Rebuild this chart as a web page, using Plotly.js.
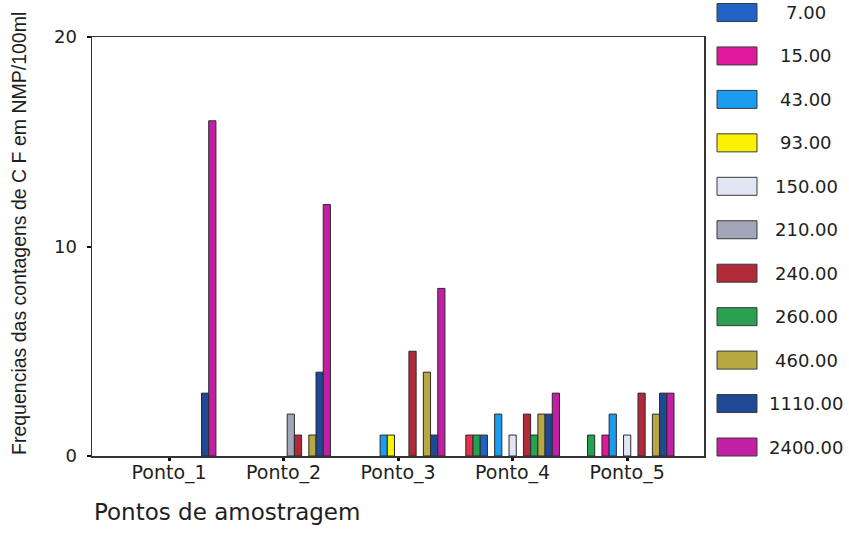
<!DOCTYPE html>
<html>
<head>
<meta charset="utf-8">
<script src="https://cdn.plot.ly/plotly-3.0.1.min.js"></script>
<style>
  html, body { margin: 0; padding: 0; background: #ffffff; }
  #chart { width: 849px; height: 534px; }
</style>
</head>
<body>
<div id="chart"></div>
<script>
// Sampling points (x categories)
const pontos = ['Ponto_1', 'Ponto_2', 'Ponto_3', 'Ponto_4', 'Ponto_5'];

// MPN count classes (one bar series each), ascending
const classes = ['3.00', '4.00', '7.00', '15.00', '43.00', '93.00', '150.00',
                 '210.00', '240.00', '260.00', '460.00', '1110.00', '2400.00'];

// Frequency of each count class at each sampling point (null = no occurrence)
const f3    = [null, null, null, 1, null];
const f4    = [null, null, null, 1, 1];
const f7    = [null, null, null, 1, null];
const f15   = [null, null, null, null, 1];
const f43   = [null, null, 1, 2, 2];
const f93   = [null, null, 1, null, null];
const f150  = [null, null, null, 1, 1];
const f210  = [null, 2, null, null, null];
const f240  = [null, 1, 5, 2, 3];
const f260  = [null, null, null, 1, null];
const f460  = [null, 1, 4, 2, 2];
const f1110 = [3, 4, 1, 2, 3];
const f2400 = [16, 12, 8, 3, 3];

const series = [f3, f4, f7, f15, f43, f93, f150, f210, f240, f260, f460, f1110, f2400];

const colors = ['#e8304a', '#22a24e', '#2062c6', '#e0189a', '#1a9cf0', '#fbf200',
                '#e2e6f4', '#a2a6b8', '#b02a3a', '#2aa052', '#b8a842', '#1f4896', '#c21fa4'];

const yTicks = [0, 10, 20];

// Plot frame in pixels
const W = 849, H = 534;
const L = 92, R = 704, T = 37, B = 456;
const px = x => (x - L) / (R - L);
const py = y => (B - y) / (B - T);

const textFont = 'DejaVu Sans, Liberation Sans, Arial, sans-serif';

const traces = classes.map((name, i) => ({
  type: 'bar',
  name: name,
  x: pontos,
  y: series[i],
  marker: { color: colors[i], line: { color: '#2a2a2a', width: 1 } },
  showlegend: false,
  hoverinfo: 'x+y+name'
}));

// Legend drawn as swatches + labels on the right; the list runs past the
// top of the page, so only the entries that land on the page are drawn
const shapes = [];
const annotations = [];
const legendBottom = 447, legendStep = 43.45;
classes.forEach((name, i) => {
  const cy = legendBottom - (classes.length - 1 - i) * legendStep;
  if (cy < 8) return;
  shapes.push({
    type: 'rect', xref: 'paper', yref: 'paper', layer: 'above',
    x0: px(717), x1: px(757), y0: py(cy + 9), y1: py(cy - 9),
    fillcolor: colors[i], line: { color: '#3a3a3a', width: 1 }
  });
  annotations.push({
    xref: 'paper', yref: 'paper', x: px(806), y: py(cy),
    xanchor: 'center', yanchor: 'middle', showarrow: false,
    text: name, font: { family: textFont, size: 18, color: '#1e1e1e' }
  });
});

// Axis titles
annotations.push({
  xref: 'paper', yref: 'paper', x: px(92), y: py(512),
  xanchor: 'left', yanchor: 'middle', showarrow: false,
  text: 'Pontos de amostragem',
  font: { family: textFont, size: 23, color: '#1e1e1e' }
});
annotations.push({
  xref: 'paper', yref: 'paper', x: px(19), y: py(234),
  xanchor: 'center', yanchor: 'middle', showarrow: false, textangle: -90,
  text: 'Frequencias das contagens de C F em NMP/100ml',
  font: { family: 'Liberation Sans Narrow, Liberation Sans, Arial, sans-serif', size: 19.5, color: '#1e1e1e' }
});

const layout = {
  width: W, height: H,
  margin: { l: L, r: W - R, t: T, b: H - B, pad: 0 },
  paper_bgcolor: '#ffffff',
  plot_bgcolor: '#ffffff',
  barmode: 'group',
  bargap: 0.182,
  bargroupgap: 0,
  showlegend: false,
  xaxis: {
    type: 'category',
    range: [-0.673, 4.671],
    showgrid: false, zeroline: false,
    showline: true, mirror: true, linecolor: '#333333', linewidth: 1.5,
    ticks: 'outside', ticklen: 3, tickwidth: 3, tickcolor: '#111111',
    ticklabelstandoff: -4,
    tickfont: { family: textFont, size: 19, color: '#1e1e1e' }
  },
  yaxis: {
    range: [0, 20],
    tickvals: yTicks,
    ticktext: yTicks.map(String),
    showgrid: false, zeroline: false,
    showline: true, mirror: true, linecolor: '#333333', linewidth: 1.5,
    ticks: 'outside', ticklen: 4, tickwidth: 2, tickcolor: '#111111',
    ticklabelstandoff: 6,
    tickfont: { family: textFont, size: 18, color: '#1e1e1e' }
  },
  shapes: shapes,
  annotations: annotations
};

Plotly.newPlot('chart', traces, layout, { staticPlot: true, displayModeBar: false });
</script>
</body>
</html>
